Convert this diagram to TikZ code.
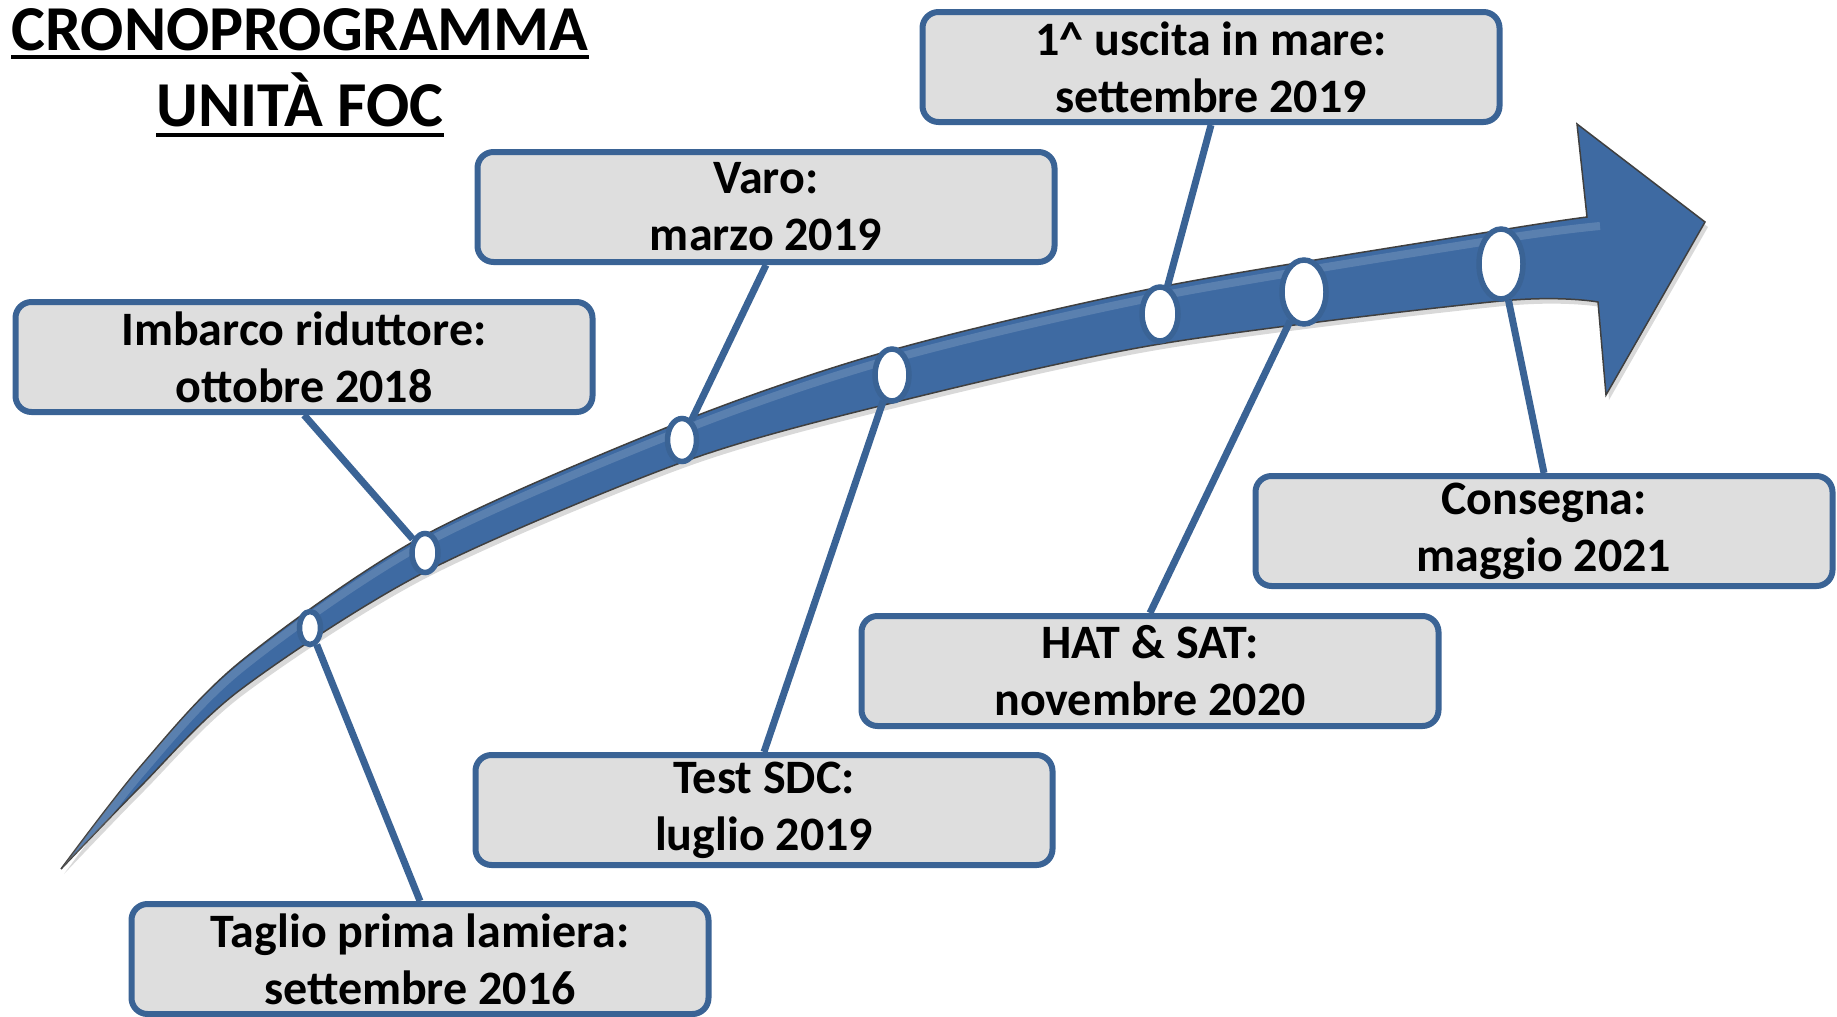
\documentclass[tikz,border=0pt]{standalone}
\usepackage{fontspec}
\setmainfont{Carlito}
\usetikzlibrary{shapes.geometric}
\definecolor{bord}{HTML}{3A6395}
\definecolor{boxfill}{HTML}{DEDEDE}
\definecolor{arrowblue}{HTML}{3E6AA2}
\newcommand\arrowshape{(61,869) -- plot[smooth,tension=0.5] coordinates {(61,869) (140,767) (240,662) (425,535) (683,421) (892,350) (1160,287) (1501,230) (1587,217)} -- (1577,124) -- (1705,222) -- (1606,395) -- (1598,302) -- plot[smooth,tension=0.5] coordinates {(1598,302) (1501,301) (1160,344) (892,403) (683,462) (425,572) (240,690) (140,787) (61,869)} -- cycle}
\begin{document}
\begin{tikzpicture}[x=1pt,y=-1pt,
 mbox/.style={draw=bord, fill=boxfill, line width=6pt, rounded corners=16pt, minimum width=577pt, minimum height=110pt, align=center, font=\fontsize{48}{57}\selectfont\bfseries, inner sep=0pt},
 dot/.style={ellipse, draw=bord, fill=white, line width=5.5pt, inner sep=0pt},
 conn/.style={draw=bord, line width=7pt},
 ttl/.style={font=\fontsize{64}{76}\selectfont\bfseries, anchor=base, inner sep=0pt}]
\useasboundingbox (0,0) rectangle (1837,1017);
% arrow
\begin{scope}[shift={(3,5)}]
\fill[black!50, opacity=0.3] \arrowshape;
\end{scope}
\fill[arrowblue, draw=black!75, line width=1.5pt] \arrowshape;
\begin{scope}
\clip \arrowshape;
\draw[line width=8pt, white, opacity=0.15] plot[smooth,tension=0.5] coordinates {(61,876) (140,774) (240,669) (425,543) (683,430) (892,359) (1160,296) (1501,239) (1600,226)};
\end{scope}
% title
\node[ttl] (t1) at (300,50) {CRONOPROGRAMMA};
\node[ttl] (t2) at (300,126) {UNIT\`A FOC};
\draw[line width=3.5pt] ([yshift=-7pt]t1.base west) -- ([yshift=-7pt]t1.base east);
\draw[line width=3.5pt] ([yshift=-9pt]t2.base west) -- ([yshift=-9pt]t2.base east);
% milestones
\node[dot, minimum width=21pt, minimum height=33pt] (e1) at (310,628) {};
\node[dot, minimum width=26pt, minimum height=39pt] (e2) at (425,553) {};
\node[dot, minimum width=29pt, minimum height=43pt] (e3) at (682,440) {};
\node[dot, minimum width=34pt, minimum height=52pt] (e4) at (892,375) {};
\node[dot, minimum width=36pt, minimum height=54pt] (e5) at (1160,314) {};
\node[dot, minimum width=44pt, minimum height=64pt] (e6) at (1304,292) {};
\node[dot, minimum width=44pt, minimum height=70pt] (e7) at (1501,264) {};
% boxes
\node[mbox] (b1) at (420,959) {Taglio prima lamiera:\\settembre 2016};
\node[mbox] (b2) at (304,357) {Imbarco riduttore:\\ottobre 2018};
\node[mbox] (b3) at (766,207) {Varo:\\marzo 2019};
\node[mbox] (b4) at (764,810) {Test SDC:\\luglio 2019};
\node[mbox] (b5) at (1211,67) {1\textasciicircum{} uscita in mare:\\settembre 2019};
\node[mbox] (b6) at (1150,671) {HAT \& SAT:\\novembre 2020};
\node[mbox] (b7) at (1544,531) {Consegna:\\maggio 2021};
% connectors
\draw[conn] (b1.north) -- (e1);
\draw[conn] (b2.south) -- (e2);
\draw[conn] (b3.south) -- (e3);
\draw[conn] (b4.north) -- (e4);
\draw[conn] (b5.south) -- (e5);
\draw[conn] (b6.north) -- (e6);
\draw[conn] (b7.north) -- (e7);
\end{tikzpicture}
\end{document}
